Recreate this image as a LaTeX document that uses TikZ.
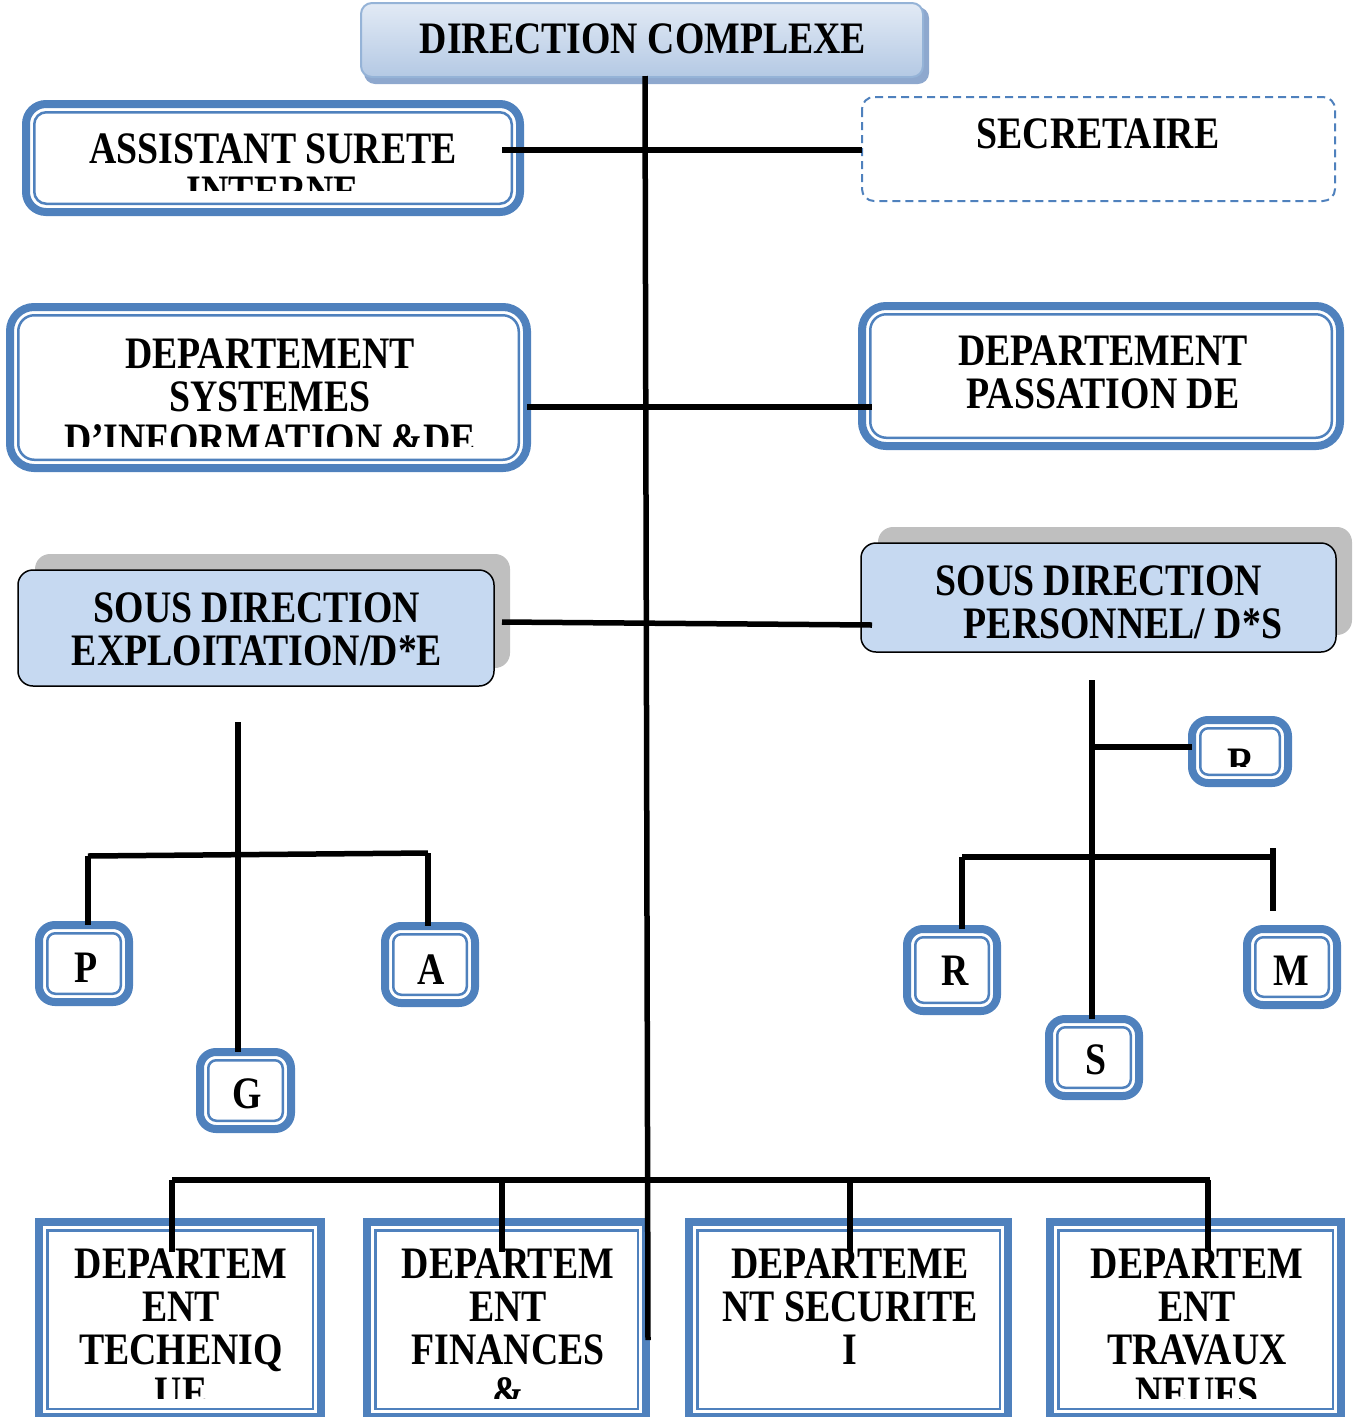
\documentclass[tikz,border=0pt]{standalone}
\usepackage{fontspec}
\newfontfamily\lbl[FakeStretch=0.84]{Liberation Serif Bold}
\definecolor{ublue}{HTML}{4F81BD}
\definecolor{subfill}{HTML}{C6D9F1}
\definecolor{shadowgray}{HTML}{BFBFBF}
\definecolor{toplight}{HTML}{E2EAF5}
\definecolor{topdark}{HTML}{B4C9E4}
\definecolor{topedge}{HTML}{95B3D7}
\definecolor{topshadow}{HTML}{8EA8CE}

% double-bordered box: name, x1, y1, x2, y2 (outer extents), outer radius, inner radius
\newcommand\dbox[7]{%
  \node[dbr, rounded corners=#6, minimum width={#4-#2-8}, minimum height={#5-#3-8}]
    (#1) at ({(#2+#4)/2},{(#3+#5)/2}) {};
  \draw[dbin, rounded corners=#7]
    ([shift={(8.25,8.25)}]#1.north west) rectangle ([shift={(-8.25,-8.25)}]#1.south east);
}

\begin{document}
\begin{tikzpicture}[x=1pt,y=-1pt,
  dbr/.style={draw=ublue, line width=8pt, fill=white, inner sep=0pt, outer sep=0pt},
  dbin/.style={draw=ublue, line width=2.5pt},
  subbox/.style={draw=black, line width=1.5pt, fill=subfill, rounded corners=15pt,
    inner sep=0pt, outer sep=0pt},
  subshadow/.style={fill=shadowgray, rounded corners=15pt},
  conn/.style={draw=black, line width=5.5pt},
  lbl/.style={font=\lbl\fontsize{45}{43}\selectfont, inner sep=0pt, anchor=base, text=black},
]
\useasboundingbox (0,0) rectangle (1355,1417);
\clip (0,0) rectangle (1355,1417);

% ---- head of the organisation ----
\fill[topshadow, rounded corners=11pt] (364,7) rectangle (929,84);
\node[draw=topedge, line width=2pt, rounded corners=11pt, top color=toplight,
  bottom color=topdark, minimum width=562, minimum height=74, inner sep=0pt, outer sep=0pt]
  (dc) at (642,40) {};
\node[lbl] (dctext) at (643,53) {DIRECTION COMPLEXE};

% ---- first row ----
\dbox{asi}{22}{100}{524}{216}{20}{12}
\begin{scope}
  \clip (30,108) rectangle (516,190);
  \node[lbl] (asi1) at (273,163) {ASSISTANT SURETE};
  \node[lbl] (asi2) at (273,206) {INTERNE};
\end{scope}

\draw[ublue, line width=2pt, dash pattern=on 8pt off 5pt, rounded corners=12pt]
  (862,97) rectangle (1335,201);
\node[inner sep=0pt, outer sep=0pt, minimum width=473, minimum height=104] (sec) at (1098.5,149) {};
\node[lbl] (sectext) at (1098,148) {SECRETAIRE};

% ---- second row ----
\dbox{dsi}{6}{303}{531}{472}{24}{16}
\begin{scope}
  \clip (14,311) rectangle (523,446);
  \node[lbl] (dsi1) at (270,368) {DEPARTEMENT};
  \node[lbl] (dsi2) at (270,411) {SYSTEMES};
  \node[lbl] (dsi3) at (270,454) {D’INFORMATION \&DE};
\end{scope}

\dbox{dpm}{858}{302}{1344}{450}{24}{16}
\node[lbl] (dpm1) at (1103,365) {DEPARTEMENT};
\node[lbl] (dpm2) at (1103,408) {PASSATION DE};

% ---- sub-directions ----
\fill[subshadow] (35,554) rectangle (510,668);
\node[subbox, minimum width=476, minimum height=116] (sde) at (256,628) {};
\node[lbl] (sde1) at (257,622) {SOUS DIRECTION};
\node[lbl] (sde2) at (257,665) {EXPLOITATION/D*E};

\fill[subshadow] (878,527) rectangle (1352,635);
\node[subbox, minimum width=475, minimum height=109] (sdp) at (1098.5,597.5) {};
\node[lbl] (sdp1) at (1099,595) {SOUS DIRECTION};
\node[lbl] (sdp2) at (1123,638) {PERSONNEL/ D*S};

% ---- services under the exploitation ----
\dbox{bP}{35}{921}{133}{1006}{16}{8}
\node[lbl] (bPt) at (86,982) {P};
\dbox{bA}{381}{922}{479}{1007}{16}{8}
\node[lbl] (bAt) at (431,984) {A};
\dbox{bG}{196}{1048}{295}{1133}{16}{8}
\node[lbl] (bGt) at (247,1108) {G};

% ---- services under the personnel ----
\dbox{bB}{1188}{716}{1292}{787}{16}{8}
\begin{scope}
  \clip (1196,724) rectangle (1284,766);
  \node[lbl] (bBt) at (1241,778) {R};
\end{scope}
\dbox{bR}{903}{925}{1001}{1015}{16}{8}
\node[lbl] (bRt) at (955,985) {R};
\dbox{bM}{1243}{925}{1341}{1009}{16}{8}
\node[lbl] (bMt) at (1291,985) {M};
\dbox{bS}{1045}{1015}{1143}{1100}{16}{8}
\node[lbl] (bSt) at (1096,1074) {S};

% ---- departments at the bottom ----
\dbox{dt}{35}{1218}{325}{1421}{0}{0}
\begin{scope}
  \clip (43,1226) rectangle (317,1398);
  \node[lbl] (dt1) at (181,1278) {DEPARTEM};
  \node[lbl] (dt2) at (181,1321) {ENT};
  \node[lbl] (dt3) at (181,1364) {TECHENIQ};
  \node[lbl] (dt4) at (181,1407) {UE};
\end{scope}
\dbox{df}{363}{1218}{650}{1421}{0}{0}
\begin{scope}
  \clip (371,1226) rectangle (642,1398);
  \node[lbl] (df1) at (508,1278) {DEPARTEM};
  \node[lbl] (df2) at (508,1321) {ENT};
  \node[lbl] (df3) at (508,1364) {FINANCES};
  \node[lbl] (df4) at (508,1407) {\&};
\end{scope}
\dbox{ds}{685}{1218}{1012}{1421}{0}{0}
\node[lbl] (ds1) at (850,1278) {DEPARTEME};
\node[lbl] (ds2) at (850,1321) {NT SECURITE};
\node[lbl] (ds3) at (850,1364) {I};
\dbox{dtn}{1046}{1218}{1345}{1421}{0}{0}
\begin{scope}
  \clip (1054,1226) rectangle (1337,1398);
  \node[lbl] (dtn1) at (1197,1278) {DEPARTEM};
  \node[lbl] (dtn2) at (1197,1321) {ENT};
  \node[lbl] (dtn3) at (1197,1364) {TRAVAUX};
  \node[lbl] (dtn4) at (1197,1407) {NEUFS};
\end{scope}

% ---- connector end points ----
\coordinate (trunkTop) at (645,76);
\coordinate (trunkBot) at (648,1340);
\coordinate (r1L) at (502,150);
\coordinate (r1R) at (862,150);
\coordinate (r2L) at (527,407);
\coordinate (r2R) at (872,407);
\coordinate (r3L) at (502,622);
\coordinate (r3R) at (872,625);
\coordinate (exTop) at (238,722);
\coordinate (exL) at (88,856);
\coordinate (exR) at (428,853);
\coordinate (peTop) at (1092,680);
\coordinate (peB) at (1092,747);
\coordinate (peL) at (962,857);
\coordinate (peR) at (1273,857);
\coordinate (peMtop) at (1273,848);
\coordinate (peMbot) at (1273,911);
\coordinate (bbL) at (172,1180);
\coordinate (bbR) at (1210,1180);

% ---- connectors ----
\draw[conn] (trunkTop) -- (trunkBot);
\draw[conn] (r1L) -- (r1R);
\draw[conn] (r2L) -- (r2R);
\draw[conn] (r3L) -- (r3R);

\draw[conn] (exTop) -- (bG.north -| exTop);
\draw[conn] (exL) -- (exR);
\draw[conn] (exL) -- (exL |- bP.north);
\draw[conn] (exR) -- (exR |- bA.north);

\draw[conn] (peTop) -- (peTop |- bS.north);
\draw[conn] (peB) -- (peB -| bB.west);
\draw[conn] (peL) -- (peR);
\draw[conn] (peL) -- (peL |- bR.north);
\draw[conn] (peMtop) -- (peMbot);

\draw[conn] (bbL) -- (bbR);
\draw[conn] (bbL) -- ++(0,72);
\draw[conn] (502,1180) -- (502,1252);
\draw[conn] (850,1180) -- (850,1252);
\draw[conn] (1208,1180) -- (1208,1252);
\end{tikzpicture}
\end{document}
